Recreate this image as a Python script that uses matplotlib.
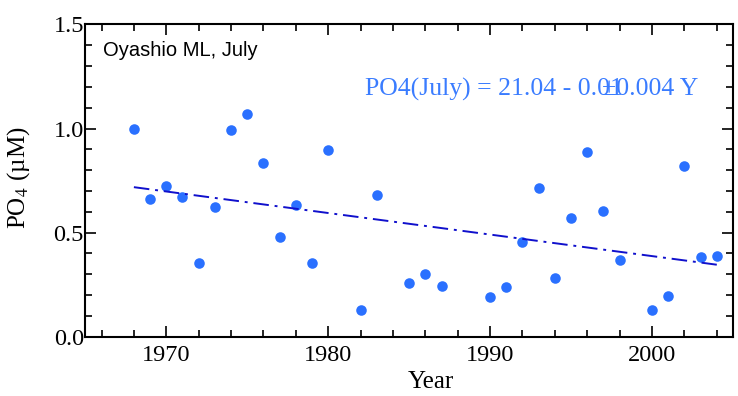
import numpy as np
import matplotlib
matplotlib.use('Agg')
import matplotlib.pyplot as plt
from matplotlib.ticker import MultipleLocator, FormatStrFormatter

# PO4 in the Oyashio mixed layer, July
years = [1968, 1969, 1970, 1971, 1972, 1973, 1974, 1975, 1976, 1977, 1978, 1979,
         1980, 1982, 1983, 1985, 1986, 1987, 1990, 1991, 1992, 1993, 1994, 1995,
         1996, 1997, 1998, 2000, 2001, 2002, 2003, 2004]
po4 = [1.000, 0.660, 0.722, 0.673, 0.356, 0.625, 0.992, 1.068, 0.833, 0.480, 0.631, 0.356,
       0.896, 0.129, 0.682, 0.258, 0.300, 0.245, 0.190, 0.239, 0.457, 0.715, 0.280, 0.570,
       0.889, 0.604, 0.369, 0.129, 0.197, 0.820, 0.384, 0.390]

plt.rcParams['font.family'] = ['Liberation Serif', 'DejaVu Serif']
plt.rcParams['mathtext.fontset'] = 'stix'

fig = plt.figure(figsize=(7.38, 3.96), dpi=100)
ax = fig.add_axes([0.1156, 0.1497, 0.8776, 0.7887])

ax.plot(years, po4, 'o', color='#2a70ff', markersize=7.6, markeredgewidth=0)

# linear trend
coef = np.polyfit(years, po4, 1)
yr = np.array([min(years), max(years)])
ax.plot(yr, np.polyval(coef, yr), color='#1010cc', lw=1.4,
        linestyle=(0, (8, 3, 1.5, 3)))

ax.set_xlim(1965, 2005)
ax.set_ylim(0, 1.5)
ax.xaxis.set_major_locator(MultipleLocator(10))
ax.xaxis.set_minor_locator(MultipleLocator(2))
ax.yaxis.set_major_locator(MultipleLocator(0.5))
ax.yaxis.set_minor_locator(MultipleLocator(0.1))
ax.yaxis.set_major_formatter(FormatStrFormatter('%.1f'))
ax.tick_params(which='both', direction='in', top=True, right=True, width=1.2,
               labelsize=17.5)
ax.tick_params(axis='x', pad=6)
ax.tick_params(axis='y', pad=1)
ax.tick_params(which='major', length=8)
ax.tick_params(which='minor', length=5)
for s in ax.spines.values():
    s.set_linewidth(1.5)

ax.set_xlabel('Year', fontsize=18, labelpad=0)
ax.xaxis.set_label_coords(0.534, -0.11)
ax.set_ylabel('PO$_4$ (\u00b5M)', fontsize=18)
ax.yaxis.set_label_coords(-0.082, 0.51)

ax.text(0.027, 0.915, 'Oyashio ML, July', transform=ax.transAxes, fontsize=14.5,
        family=['Liberation Sans', 'DejaVu Sans'], va='center', ha='left')
eq1 = ax.text(0.432, 0.793, 'PO4(July) = 21.04 - 0.01', transform=ax.transAxes,
              fontsize=18.5, color='#3a7cff', va='center', ha='left')
# the error term is printed on top of the slope, as in the original
fig.canvas.draw()
bb = eq1.get_window_extent()
ax.annotate('\u00b10.004 Y', xy=(bb.x1 - 21, (bb.y0 + bb.y1) / 2), xycoords='figure pixels',
            fontsize=18.5, color='#3a7cff', va='center', ha='left')

fig.savefig('out.png', dpi=100)
